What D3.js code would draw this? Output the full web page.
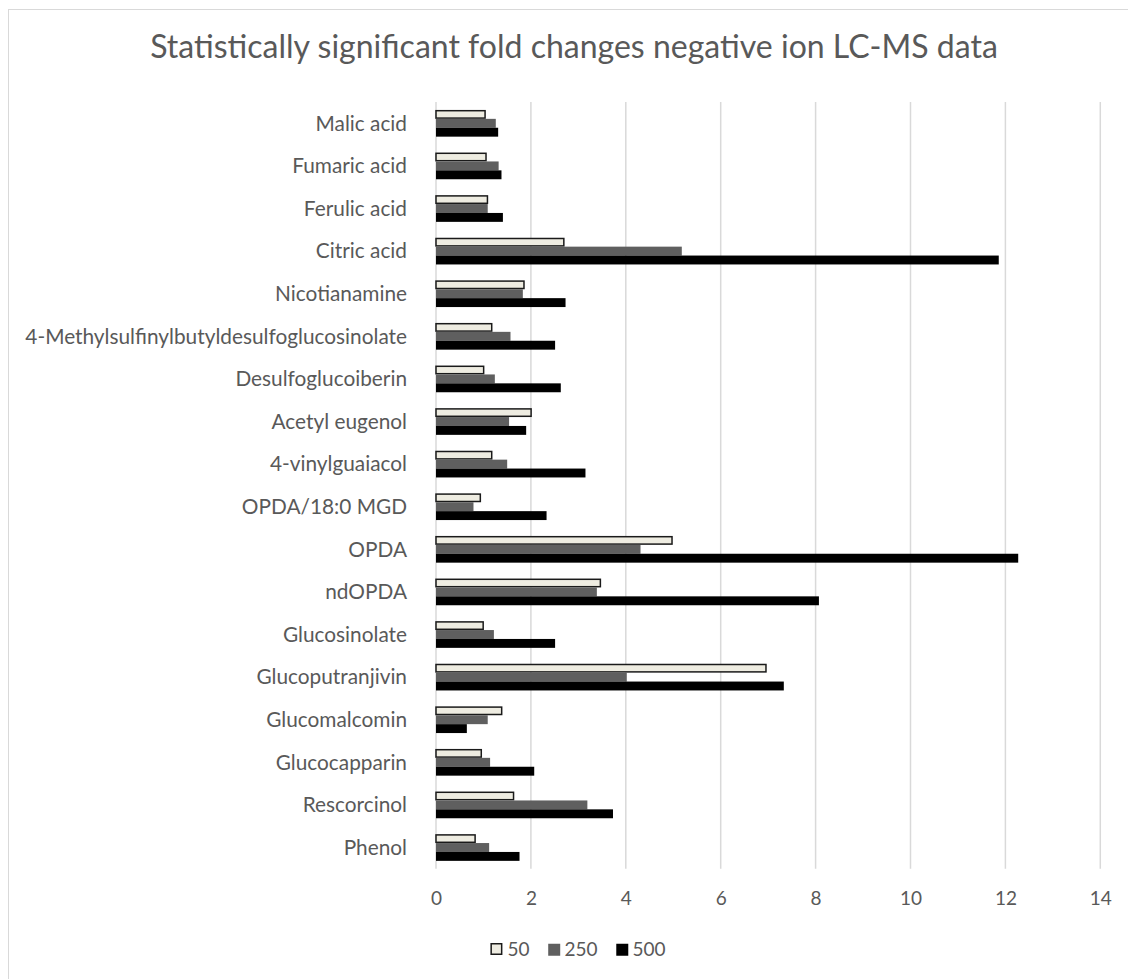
<!DOCTYPE html>
<html>
<head>
<meta charset="utf-8">
<script src="https://cdn.jsdelivr.net/npm/d3@7"></script>
<style>
  body { margin: 0; background: #fff; }
  svg { display: block; }
  text { font-family: Lato, "Open Sans", "DejaVu Sans", sans-serif; }
</style>
</head>
<body>
<svg id="chart" width="1128" height="979"></svg>
<script>
// Compounds, listed top to bottom
const categories = [
  "Malic acid", "Fumaric acid", "Ferulic acid", "Citric acid", "Nicotianamine",
  "4-Methylsulfinylbutyldesulfoglucosinolate", "Desulfoglucoiberin", "Acetyl eugenol",
  "4-vinylguaiacol", "OPDA/18:0 MGD", "OPDA", "ndOPDA", "Glucosinolate",
  "Glucoputranjivin", "Glucomalcomin", "Glucocapparin", "Rescorcinol", "Phenol"
];
const seriesNames = ["50", "250", "500"];

// Fold change per compound, one array per dose
const values50  = [1.05, 1.07, 1.10, 2.71, 1.87, 1.19, 1.02, 2.02, 1.19, 0.95, 4.99, 3.48, 1.01, 6.97, 1.40, 0.97, 1.65, 0.84];
const values250 = [1.26, 1.32, 1.09, 5.18, 1.83, 1.57, 1.24, 1.54, 1.50, 0.79, 4.31, 3.39, 1.22, 4.02, 1.09, 1.14, 3.19, 1.12];
const values500 = [1.31, 1.38, 1.41, 11.86, 2.73, 2.51, 2.63, 1.90, 3.15, 2.33, 12.27, 8.07, 2.51, 7.33, 0.65, 2.07, 3.73, 1.76];

const xTicks = [0, 2, 4, 6, 8, 10, 12, 14];

const titleText = "Statistically significant fold changes negative ion LC-MS data";

const seriesStyle = {
  "50":  { fill: "#eeece1", stroke: "#1a1a1a", sw: 1.5 },
  "250": { fill: "#5f5f5f", stroke: "none", sw: 0 },
  "500": { fill: "#000000", stroke: "none", sw: 0 }
};

const rows = categories.map((c, i) => ({
  name: c,
  vals: { "50": values50[i], "250": values250[i], "500": values500[i] }
}));

const svg = d3.select("#chart");
const textColor = "#595959";

// chart frame
svg.append("rect")
  .attr("x", 8.5).attr("y", 9.5)
  .attr("width", 1140).attr("height", 1000)
  .attr("fill", "#fff").attr("stroke", "#d9d9d9").attr("stroke-width", 1);

const plot = { left: 436, right: 1100.3, top: 102, bottom: 868.8 };

const x = d3.scaleLinear().domain([0, 14]).range([plot.left, plot.right]);
const y = d3.scaleBand().domain(categories)
  .range([plot.top, plot.bottom])
  .paddingInner(0.373).paddingOuter(0.1865);
const ySub = d3.scaleBand().domain(seriesNames).range([0, y.bandwidth()]);

// title
const title = svg.append("text")
  .attr("x", 574).attr("y", 58)
  .attr("text-anchor", "middle")
  .attr("fill", textColor)
  .attr("font-size", 28)
  .text(titleText);
{
  const w = title.node().getComputedTextLength();
  title.attr("font-size", 28 * 848 / w);
}

// vertical gridlines (including the value-axis baseline at 0)
svg.append("g").selectAll("line")
  .data(xTicks).join("line")
  .attr("x1", d => x(d)).attr("x2", d => x(d))
  .attr("y1", plot.top).attr("y2", plot.bottom)
  .attr("stroke", "#d9d9d9").attr("stroke-width", 1.5);

// x tick labels
const xAxis = d3.axisBottom(x).tickValues(xTicks).tickSize(0).tickPadding(0);
const gx = svg.append("g")
  .attr("transform", `translate(0, ${plot.bottom + 36})`)
  .call(xAxis);
gx.select(".domain").remove();
gx.selectAll("text")
  .attr("dy", 0)
  .attr("fill", textColor)
  .attr("font-size", 19)
  .style("font-family", "Lato, 'Open Sans', sans-serif");

// category labels
const yAxis = d3.axisLeft(y).tickSize(0).tickPadding(0);
const gy = svg.append("g")
  .attr("transform", `translate(407, 0)`)
  .call(yAxis);
gy.select(".domain").remove();
const labels = gy.selectAll("text")
  .attr("fill", textColor)
  .attr("font-size", 20)
  .attr("dy", "0.35em")
  .style("font-family", "Lato, 'Open Sans', sans-serif")
  .style("white-space", "pre");
{
  let maxW = 0;
  labels.each(function () { maxW = Math.max(maxW, this.getComputedTextLength()); });
  labels.attr("font-size", 20 * 382 / maxW);
}

// bars
const groups = svg.append("g").selectAll("g")
  .data(rows).join("g")
  .attr("transform", d => `translate(0, ${y(d.name)})`);

groups.selectAll("rect")
  .data(d => seriesNames.map(s => ({ s, v: d.vals[s] })))
  .join("rect")
  .attr("x", x(0))
  .attr("y", d => ySub(d.s) + seriesStyle[d.s].sw / 2)
  .attr("width", d => x(d.v) - x(0) - seriesStyle[d.s].sw / 2)
  .attr("height", d => ySub.bandwidth() - seriesStyle[d.s].sw)
  .attr("fill", d => seriesStyle[d.s].fill)
  .attr("stroke", d => seriesStyle[d.s].stroke)
  .attr("stroke-width", d => seriesStyle[d.s].sw);

// legend
const legend = svg.append("g");
const items = legend.selectAll("g").data(seriesNames).join("g");
items.append("rect")
  .attr("x", 0.75).attr("y", 0.75)
  .attr("width", d => 12 - seriesStyle[d].sw)
  .attr("height", d => 12 - seriesStyle[d].sw)
  .attr("fill", d => seriesStyle[d].fill)
  .attr("stroke", d => seriesStyle[d].stroke)
  .attr("stroke-width", d => seriesStyle[d].sw);
items.append("text")
  .attr("x", 17).attr("y", 13)
  .attr("fill", textColor)
  .attr("font-size", 19)
  .text(d => d);
{
  let cx = 0;
  const pos = [];
  items.each(function () {
    const w = 17 + d3.select(this).select("text").node().getComputedTextLength();
    pos.push(cx);
    cx += w + 18;
  });
  const total = cx - 18;
  const start = 578 - total / 2;
  items.attr("transform", (d, i) => `translate(${start + pos[i]}, 943)`);
}
</script>
</body>
</html>
